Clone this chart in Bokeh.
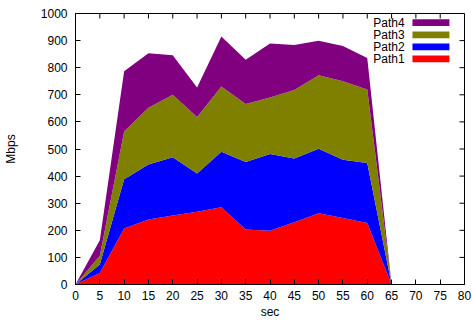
import math
from bokeh.plotting import figure
from bokeh.models import FixedTicker, Range1d, ColumnDataSource
from bokeh.core.properties import value
from bokeh.embed import file_html
from bokeh.resources import INLINE

# ---- data ----
sec = [0, 5, 10, 15, 20, 25, 30, 35, 40, 45, 50, 55, 60, 65]
path1 = [0, 42, 207, 240, 255, 268, 285, 203, 198, 230, 263, 245, 227, 0]
path2 = [0, 32, 181, 203, 215, 142, 205, 249, 284, 235, 238, 215, 221, 0]
path3 = [0, 32, 177, 209, 230, 208, 241, 214, 208, 253, 271, 290, 272, 0]
path4 = [0, 57, 222, 201, 146, 109, 184, 163, 199, 166, 127, 130, 116, 0]
series_names = ["Path1", "Path2", "Path3", "Path4"]
colors = ["#ff0000", "#0000ff", "#808000", "#800080"]
x_ticks = list(range(0, 85, 5))
y_ticks = list(range(0, 1100, 100))

FONT = "Liberation Sans"
FS = "12px"
X_MIN, X_MAX, Y_MIN, Y_MAX = 0, 80, 0, 1000

src = ColumnDataSource(dict(sec=sec, Path1=path1, Path2=path2, Path3=path3, Path4=path4))

p = figure(width=473, height=321, output_backend="svg", toolbar_location=None,
           x_range=Range1d(X_MIN, X_MAX), y_range=Range1d(Y_MIN, Y_MAX),
           min_border_left=75, min_border_right=9, min_border_top=13, min_border_bottom=36)
p.background_fill_color = "white"
p.border_fill_color = "white"
p.outline_line_color = "black"
p.outline_line_width = 1
p.xgrid.visible = False
p.ygrid.visible = False

p.varea_stack(stackers=series_names, x="sec", color=colors, source=src)

def style(ax, ticks):
    ax.ticker = FixedTicker(ticks=ticks)
    ax.minor_tick_line_color = None
    ax.major_tick_in = 5
    ax.major_tick_out = 0
    ax.major_tick_line_color = "black"
    ax.axis_line_color = "black"
    ax.major_label_text_font = FONT
    ax.major_label_text_font_size = FS
    ax.major_label_text_color = "black"
    ax.axis_label_text_font = FONT
    ax.axis_label_text_font_size = FS
    ax.axis_label_text_font_style = "normal"
    ax.axis_label_text_color = "black"

style(p.xaxis[0], x_ticks)
style(p.yaxis[0], y_ticks)
p.xaxis[0].axis_label = "sec"
p.yaxis[0].axis_label = "Mbps"
p.xaxis[0].major_label_standoff = 6
p.xaxis[0].axis_label_standoff = 2
p.yaxis[0].major_label_standoff = 8
p.yaxis[0].axis_label_standoff = 20

# mirrored inward ticks on top and right edges (gnuplot style)
p.ray(x=x_ticks, y=Y_MAX, length=5, length_units="screen",
      angle=-math.pi / 2, line_color="black", line_width=1)
p.ray(x=X_MAX, y=y_ticks, length=5, length_units="screen",
      angle=math.pi, line_color="black", line_width=1)

# ---- legend (gnuplot style: label left, sample right) ----
leg_text_x = 67.7
leg_box_l, leg_box_r = 69.3, 76.9
leg_row0, leg_step, leg_half = 966, 44.5, 12.5
order = list(range(len(series_names)))[::-1]
rows_y = [leg_row0 - i * leg_step for i in range(len(order))]
leg = ColumnDataSource(dict(
    y=rows_y,
    txt=[series_names[k] for k in order],
    col=[colors[k] for k in order],
    top=[y + leg_half for y in rows_y],
    bot=[y - leg_half for y in rows_y],
))
p.text(x=leg_text_x, y="y", text="txt", source=leg, text_align="right",
       text_baseline="middle", text_font=value(FONT), text_font_size=FS, text_color="black")
p.quad(left=leg_box_l, right=leg_box_r, top="top", bottom="bot", color="col",
       source=leg, line_color=None)

open("out.html", "w").write(file_html(p, INLINE))
